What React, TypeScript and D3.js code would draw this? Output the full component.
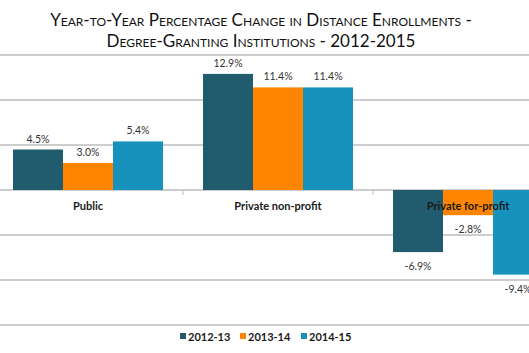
import * as d3 from 'd3';
import { useRef, useEffect } from 'react';

const categories = ['Public', 'Private non-profit', 'Private for-profit'];
const series = ['2012-13', '2013-14', '2014-15'];
const colors = ['#215c6e', '#ff8400', '#1692bd'];
// values per series, in category order
const values2012 = [4.5, 12.9, -6.9];
const values2013 = [3.0, 11.4, -2.8];
const values2014 = [5.4, 11.4, -9.4];
const yTicks = [-15, -10, -5, 0, 5, 10, 15];
const titleLines = [
    'Year-to-Year Percentage Change in Distance Enrollments -',
    'Degree-Granting Institutions - 2012-2015',
];

export default function App() {
    const ref = useRef<SVGSVGElement>(null);

    useEffect(() => {
        const width = 529;
        const height = 353;
        const font = 'Lato, "Open Sans", sans-serif';

        const svg = d3.select(ref.current)
            .attr('width', width)
            .attr('height', height);
        svg.selectAll('*').remove();

        const allValues = [values2012, values2013, values2014];
        const data = categories.map((cat, i) => ({
            cat,
            vals: series.map((s, j) => ({ s, v: allValues[j][i], color: colors[j] })),
        }));

        // scales
        const x0 = d3.scaleBand().domain(categories).range([-7, 563]);
        const x1 = d3.scaleBand().domain(series).range([20, x0.bandwidth() - 20]);
        const y = d3.scaleLinear().domain([-15, 15]).range([325, 55]);

        // title
        svg.append('g')
            .selectAll('text')
            .data(titleLines)
            .enter().append('text')
            .attr('x', 261)
            .attr('y', (d, i) => 26 + i * 20.5)
            .attr('text-anchor', 'middle')
            .style('font-family', font)
            .style('font-size', '17px')
            .style('font-variant', 'small-caps')
            .style('fill', '#111')
            .text(d => d);

        // gridlines
        svg.append('g')
            .selectAll('line')
            .data(yTicks)
            .enter().append('line')
            .attr('x1', 0)
            .attr('x2', width)
            .attr('y1', d => y(d))
            .attr('y2', d => y(d))
            .attr('stroke', '#bdbdbd')
            .attr('stroke-width', 1.5);

        // bars
        const groups = svg.append('g')
            .selectAll('g')
            .data(data)
            .enter().append('g')
            .attr('transform', d => `translate(${x0(d.cat)},0)`);

        groups.selectAll('rect')
            .data(d => d.vals)
            .enter().append('rect')
            .attr('x', d => x1(d.s)!)
            .attr('width', x1.bandwidth())
            .attr('y', d => y(Math.max(0, d.v)))
            .attr('height', d => Math.abs(y(d.v) - y(0)))
            .attr('fill', d => d.color);

        groups.selectAll('text')
            .data(d => d.vals)
            .enter().append('text')
            .attr('x', d => x1(d.s)! + x1.bandwidth() / 2)
            .attr('y', d => d.v >= 0 ? y(d.v) - 7 : y(d.v) + 18)
            .attr('text-anchor', 'middle')
            .style('font-family', font)
            .style('font-size', '10.5px')
            .style('fill', '#333')
            .text(d => `${d.v.toFixed(1)}%`);

        // category ticks on zero line
        svg.append('g')
            .selectAll('line')
            .data(categories.slice(1))
            .enter().append('line')
            .attr('x1', d => x0(d)!)
            .attr('x2', d => x0(d)!)
            .attr('y1', y(0))
            .attr('y2', y(0) + 5)
            .attr('stroke', '#bdbdbd')
            .attr('stroke-width', 1);

        // category labels
        svg.append('g')
            .selectAll('text')
            .data(categories)
            .enter().append('text')
            .attr('x', d => x0(d)! + x0.bandwidth() / 2)
            .attr('y', y(0) + 20)
            .attr('text-anchor', 'middle')
            .style('font-family', font)
            .style('font-size', '11px')
            .style('font-weight', 'bold')
            .style('fill', '#1a1a1a')
            .text(d => d);

        // legend
        const legendX = [180, 240, 301];
        const legend = svg.append('g')
            .selectAll('g')
            .data(series)
            .enter().append('g')
            .attr('transform', (d, i) => `translate(${legendX[i]},333)`);
        legend.append('rect')
            .attr('width', 6)
            .attr('height', 6)
            .attr('fill', (d, i) => colors[i]);
        legend.append('text')
            .attr('x', 8)
            .attr('y', 7.5)
            .style('font-family', font)
            .style('font-size', '11px')
            .style('font-weight', 'bold')
            .style('fill', '#1a1a1a')
            .text(d => d);
    }, []);

    return (
        <svg ref={ref} style={{ position: 'absolute', left: 0, top: 0, display: 'block', background: '#fff' }}></svg>
    );
}
